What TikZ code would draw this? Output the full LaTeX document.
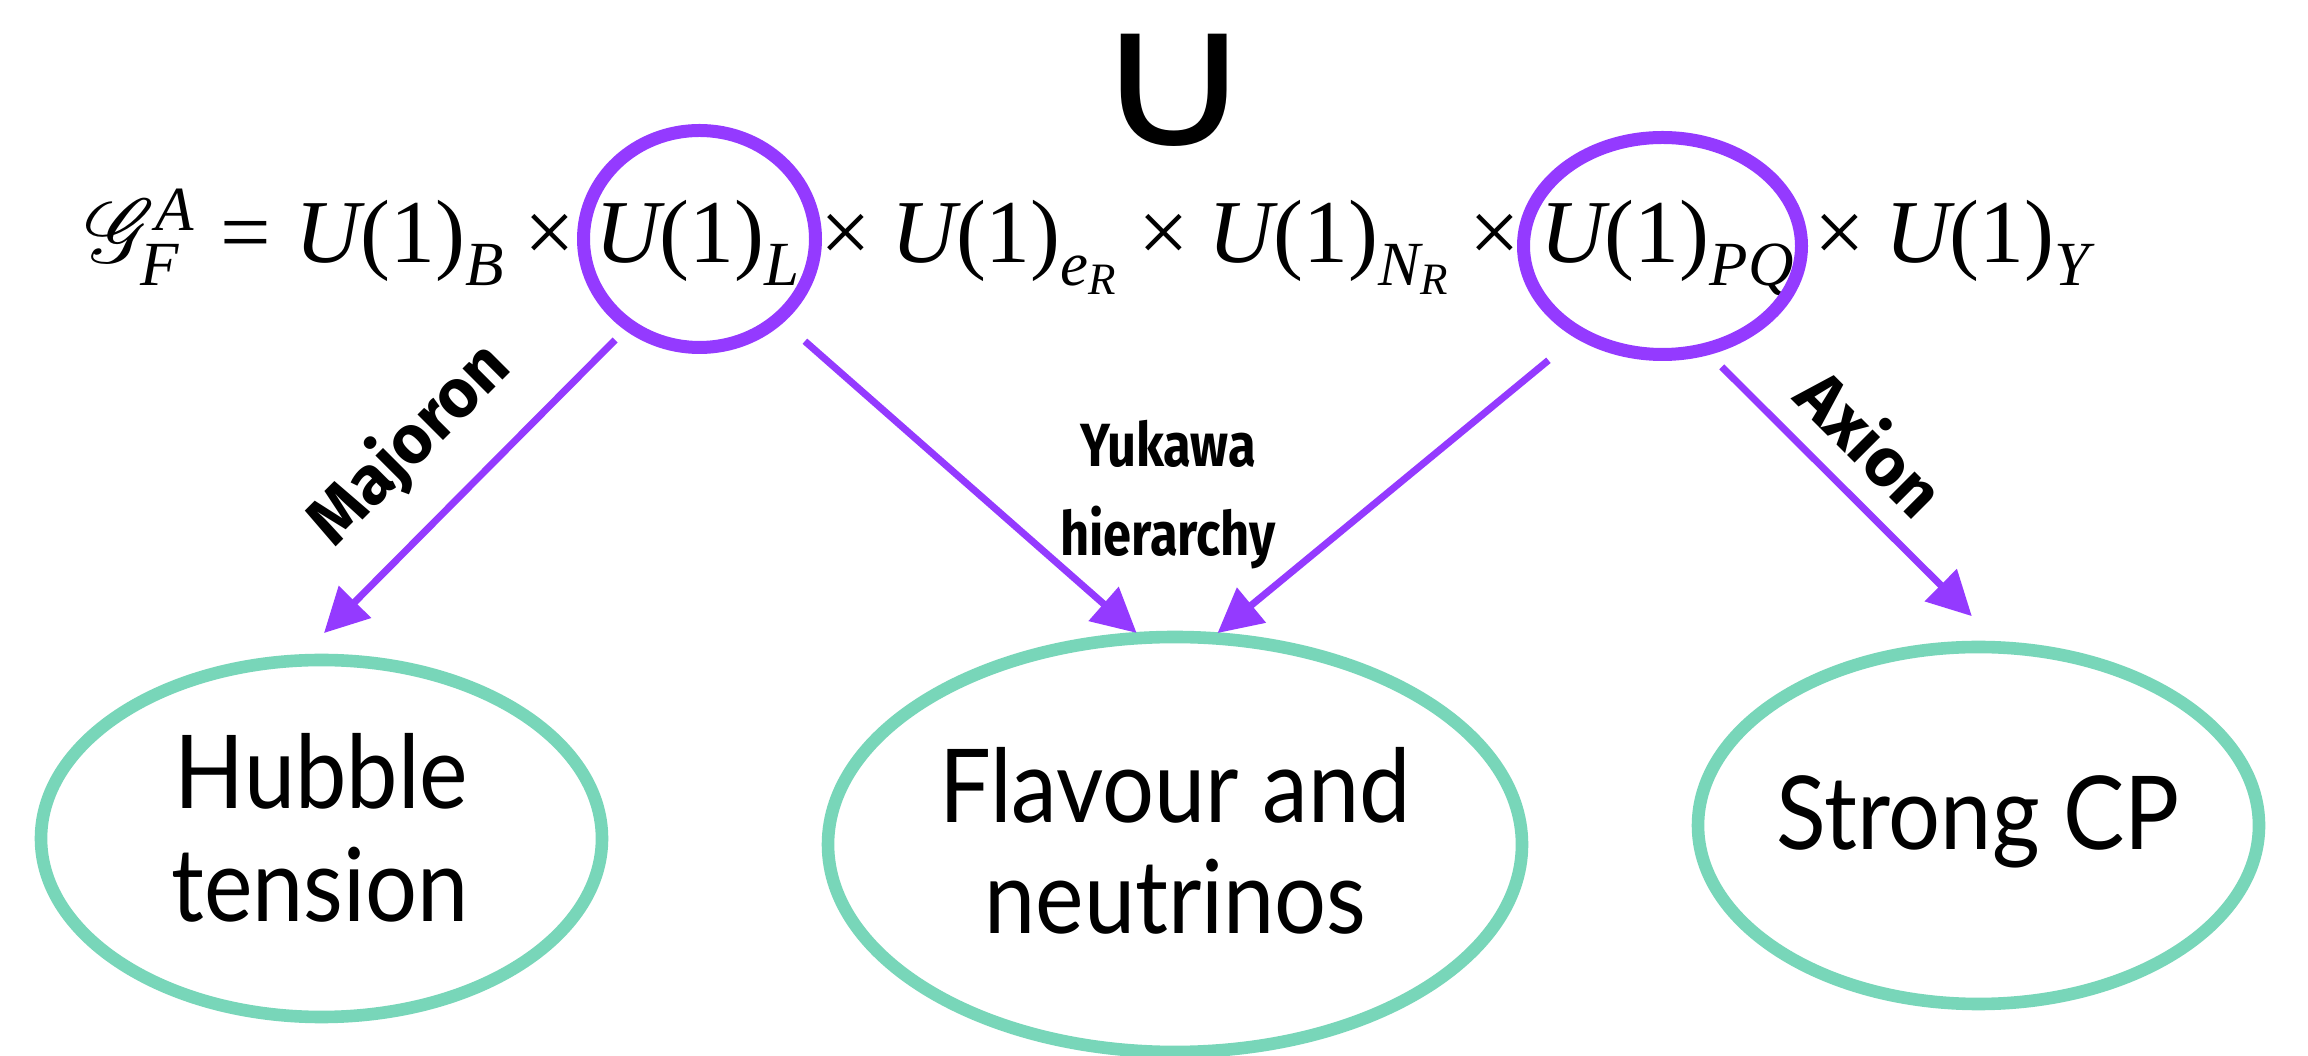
\RequirePackage{fix-cm}
\documentclass[tikz,border=0pt]{standalone}
\usepackage{amsmath}
\usepackage{mathrsfs}
\DeclareFontFamily{U}{rsfs}{\skewchar\font127 }
\DeclareFontShape{U}{rsfs}{m}{n}{<-> rsfs10}{}
\usepackage{fontspec}
\setmainfont{Liberation Serif}
\usetikzlibrary{shapes.geometric,arrows.meta}
\newfontfamily\boxfont{Lato}[FakeStretch=0.9]
\newfontfamily\labfont{Fira Sans}
\newfontfamily\yukfont{Fira Sans}[FakeStretch=0.83]
\newfontfamily\symfont{DejaVu Sans}
\newcommand\ti[1]{\text{\itshape #1}}
\newcommand\tx{\mathbin{\text{×}}}
\newcommand\teq{\mathrel{\text{=}}}
\definecolor{vio}{RGB}{148,58,255}
\definecolor{mint}{RGB}{120,214,185}
\begin{document}
\begin{tikzpicture}[x=0.5pt,y=0.5pt,
  uset/.style={draw=vio, line width=6.5pt, ellipse, inner sep=0pt, outer sep=0pt},
  goal/.style={draw=mint, line width=6.3pt, ellipse, inner sep=0pt, outer sep=0pt},
  arr/.style={draw=vio, line width=3.5pt, -{Triangle[length=22pt,width=22pt]}},
  goaltext/.style={font=\boxfont\fontsize{51pt}{56pt}\selectfont, inner sep=0pt, anchor=base},
  lab/.style={font=\labfont\bfseries\fontsize{34pt}{40pt}\selectfont, inner sep=0pt},
  yuklab/.style={font=\yukfont\bfseries\fontsize{30.5pt}{44.5pt}\selectfont, inner sep=0pt, align=center}]
\fill[white] (0,0) rectangle (2308,1055);
\useasboundingbox (0,0) rectangle (2308,1055);

% top formula and union sign
\node[inner sep=0pt, xscale=1.15, font=\symfont\fontsize{97pt}{100pt}\selectfont] (cup) at (1174,965) {∪};
\node[anchor=base west, inner sep=0pt, font=\fontsize{44.9pt}{50pt}\selectfont] (formula) at (85,792)
  {$\mathscr{G}_{\ti{F}}^{\ti{A}} \teq \ti{U}\text{(1)}_{\ti{B}}\tx \ti{U}\text{(1)}_{\ti{L}}\tx \ti{U}\text{(1)}_{\ti{e}_{\ti{R}}}\tx \ti{U}\text{(1)}_{\ti{N}_{\ti{R}}}\tx \ti{U}\text{(1)}_{\ti{PQ}}\tx \ti{U}\text{(1)}_{\ti{Y}}$};

% circled factors
\node[uset, minimum width=116pt, minimum height=108.5pt] (UL) at (699.5,816) {};
\node[uset, minimum width=139pt, minimum height=108.5pt] (UPQ) at (1662.5,809) {};

% goal ellipses
\node[goal, minimum width=280.5pt, minimum height=178.5pt] (hub) at (321.5,216.5) {};
\node[goal, minimum width=347pt, minimum height=207.5pt] (flav) at (1175,210.5) {};
\node[goal, minimum width=280.5pt, minimum height=178.5pt] (scp) at (1978.5,229.5) {};

\node[goaltext] (hubA) at (321.5,246) {Hubble};
\node[goaltext] (hubB) at (320,133) {tension};
\node[goaltext] (flavA) at (1175,232) {Flavour and};
\node[goaltext] (flavB) at (1175.5,121) {neutrinos};
\node[goaltext] (scpA) at (1978,205) {Strong CP};

% arrows
\draw[arr, shorten <=10.2pt, shorten >=19.5pt] (UL.-129) -- (hub.98);
\draw[arr, shorten <=17.4pt, shorten >=3.8pt] (UL.-45.6) -- (flav.99.4);
\draw[arr, shorten <=20.9pt, shorten >=4pt] (UPQ.-133.2) -- (flav.80.4);
\draw[arr, shorten <=12.3pt, shorten >=22.35pt] (UPQ.-68.35) -- (scp.82.6);

% arrow labels
\node[lab, rotate=45] (maj) at (410,610) {Majoron};
\node[lab, rotate=-45] (axi) at (1872,613) {Axion};
\node[yuklab] (yuk) at (1168,560.5) {Yukawa\\hierarchy};
\end{tikzpicture}
\end{document}
